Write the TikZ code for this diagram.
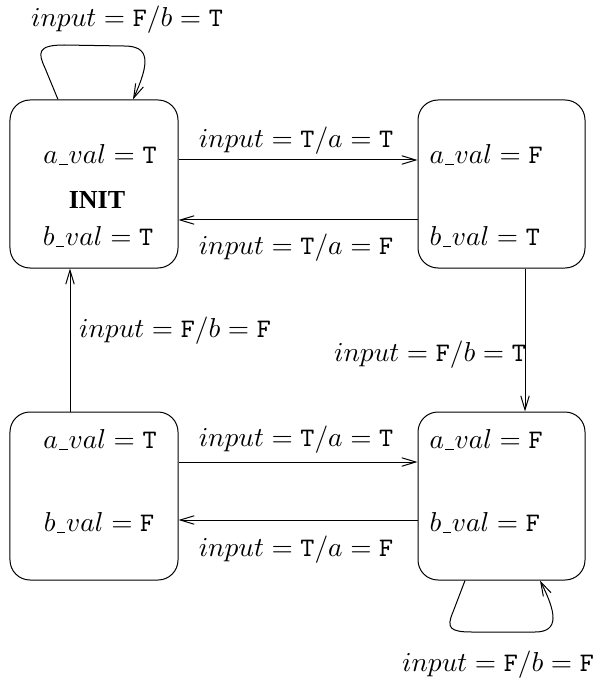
\documentclass[tikz,border=0pt]{standalone}
\usepackage{fontspec}
\newfontfamily\initfont{Liberation Serif}
\usetikzlibrary{arrows.meta,calc}
\newcommand\ubar{\kern0.05em\rule[-0.12ex]{0.32em}{0.45pt}\kern0.03em}
\tikzset{
  state/.style={draw, rounded corners=8pt, minimum width=67.2pt, minimum height=67.2pt, inner sep=0pt, line width=0.4pt},
  edge/.style={draw, line width=0.4pt, -{Straight Barb[length=5.6pt,width=3.4pt]}},
  lbl/.style={inner sep=0pt, font=\fontsize{10.7}{13}\selectfont},
  val/.style={lbl},
  lval/.style={lbl, anchor=west}
}
\begin{document}
\begin{tikzpicture}[x=0.4pt,y=-0.4pt]
\useasboundingbox (0,0) rectangle (595,685);
% states
\node[state, minimum width=67.2pt] (init) at (94,184) {};
\node[state, minimum width=66.8pt] (tr) at (501.5,184) {};
\node[state, minimum width=67.2pt] (bl) at (94,496) {};
\node[state, minimum width=66.8pt] (br) at (501.5,496) {};
% contents
\node[val] (ia) at (100,155) {$a\ubar val = \mathtt{T}$};
\node[val] (in) at (97,200) {\initfont\bfseries\fontsize{10.4}{13}\selectfont INIT};
\node[val] (ib) at (98,237) {$b\ubar val = \mathtt{T}$};
\node[lval] (ta) at (429,155) {$a\ubar val = \mathtt{F}$};
\node[lval] (tb) at (429,237) {$b\ubar val = \mathtt{T}$};
\node[val] (la) at (100,440) {$a\ubar val = \mathtt{T}$};
\node[val] (lb) at (99,523) {$b\ubar val = \mathtt{F}$};
\node[lval] (ra) at (429,440) {$a\ubar val = \mathtt{F}$};
\node[lval] (rb) at (429,523) {$b\ubar val = \mathtt{F}$};
% horizontal edges
\draw[edge] (init.east |- 0,160) -- (tr.west |- 0,160);
\draw[edge] (tr.west |- 0,220) -- (init.east |- 0,220);
\draw[edge] (bl.east |- 0,462) -- (br.west |- 0,462);
\draw[edge] (br.west |- 0,520) -- (bl.east |- 0,520);
% vertical edges
\draw[edge] (tr.south -| 525,0) -- (br.north -| 525,0);
\draw[edge] (bl.north -| 70,0) -- (init.south -| 70,0);
% self loops
\coordinate (l1s) at (init.north -| 58,0);
\coordinate (l1e) at (init.north -| 133,0);
\draw[edge] (l1s) -- (45,68) .. controls (38,53) and (37,45) .. (64,45) -- (124,46) .. controls (150,46) and (150,62) .. (l1e);
\coordinate (l2s) at (br.south -| 465,0);
\coordinate (l2e) at (br.south -| 540,0);
\draw[edge] (l2s) -- (453,612) .. controls (446,628) and (450,632) .. (472,632) -- (535,632) .. controls (560,632) and (556,612) .. (l2e);
% labels
\node[lbl] (e1) at (296,141) {$input = \mathtt{T}/a = \mathtt{T}$};
\node[lbl] (e2) at (296,248) {$input = \mathtt{T}/a = \mathtt{F}$};
\node[lbl] (e3) at (296,440) {$input = \mathtt{T}/a = \mathtt{T}$};
\node[lbl] (e4) at (296,550) {$input = \mathtt{T}/a = \mathtt{F}$};
\node[lbl] (e5) at (430,355) {$input = \mathtt{F}/b = \mathtt{T}$};
\node[lbl] (e6) at (175,331) {$input = \mathtt{F}/b = \mathtt{F}$};
\node[lbl] (e7) at (127,20) {$input = \mathtt{F}/b = \mathtt{T}$};
\node[lbl] (e8) at (498,665) {$input = \mathtt{F}/b = \mathtt{F}$};
\end{tikzpicture}
\end{document}
